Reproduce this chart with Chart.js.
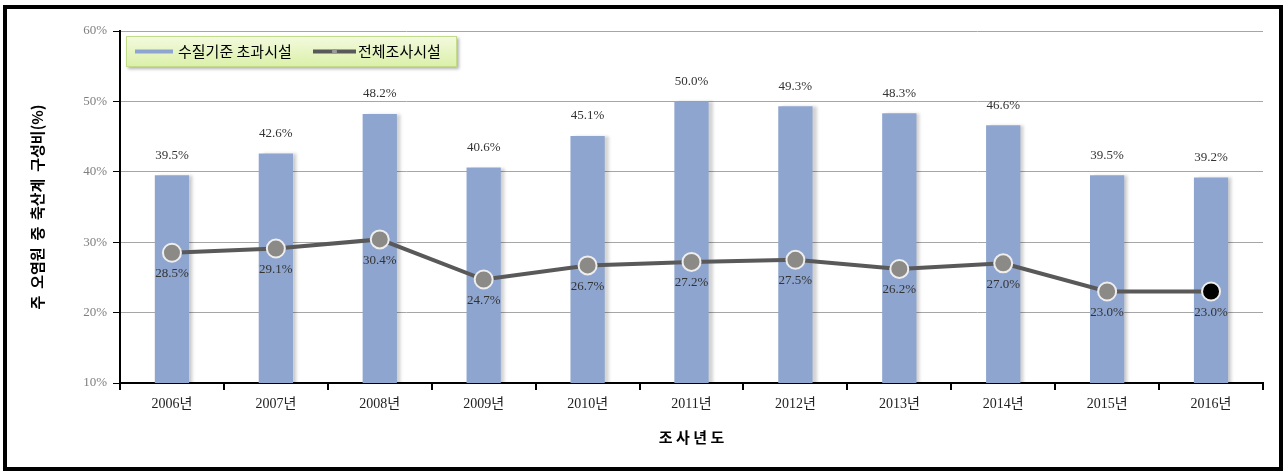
<!DOCTYPE html>
<html>
<head>
<meta charset="utf-8">
<script src="https://cdn.jsdelivr.net/npm/chart.js@4/dist/chart.umd.min.js"></script>
<style>
  html, body { margin: 0; padding: 0; background: #fff; }
  #wrap { position: relative; width: 1285px; height: 474px; }
  #frame { position: absolute; left: 3px; top: 5px; width: 1280px; height: 466px;
           box-sizing: border-box; border: 4px solid #000; pointer-events: none; }
  canvas { position: absolute; left: 0; top: 0; }
</style>
</head>
<body>
<div id="wrap">
  <canvas id="chart" width="1285" height="474"></canvas>
  <div id="frame"></div>
</div>
<script>
const years = ['2006년', '2007년', '2008년', '2009년', '2010년', '2011년', '2012년', '2013년', '2014년', '2015년', '2016년'];
const exceedRatio = [39.5, 42.6, 48.2, 40.6, 45.1, 50.0, 49.3, 48.3, 46.6, 39.5, 39.2];
const allRatio = [28.5, 29.1, 30.4, 24.7, 26.7, 27.2, 27.5, 26.2, 27.0, 23.0, 23.0];
const yTicks = [10, 20, 30, 40, 50, 60];

const barColor = '#8ea5cf';
const lineColor = '#595959';
const numFont = '"Liberation Serif", "Noto Sans CJK KR", serif';
const krFont = '"Noto Sans CJK KR", sans-serif';

// value labels: above bars, below line points
const valueLabels = {
  id: 'valueLabels',
  afterDatasetsDraw(chart) {
    const ctx = chart.ctx;
    ctx.save();
    ctx.font = '13px ' + numFont;
    ctx.fillStyle = '#333';
    ctx.textAlign = 'center';
    ctx.textBaseline = 'middle';
    chart.getDatasetMeta(1).data.forEach((el, i) => {
      ctx.fillText(exceedRatio[i].toFixed(1) + '%', el.x, el.y - 20);
    });
    chart.getDatasetMeta(0).data.forEach((el, i) => {
      ctx.fillText(allRatio[i].toFixed(1) + '%', el.x, el.y + 21);
    });
    ctx.restore();
  }
};

// soft shadow to the right of each bar
const barShadow = {
  id: 'barShadow',
  beforeDatasetDraw(chart, args) {
    if (args.index !== 1) return;
    const ctx = chart.ctx;
    ctx.save();
    ctx.shadowColor = 'rgba(0,0,0,0.18)';
    ctx.shadowOffsetX = 4;
    ctx.shadowOffsetY = 0;
    ctx.shadowBlur = 3;
  },
  afterDatasetDraw(chart, args) {
    if (args.index !== 1) return;
    chart.ctx.restore();
  }
};

// legend box in the top-left of the plot
const legendBox = {
  id: 'legendBox',
  afterDraw(chart) {
    const ctx = chart.ctx;
    const x = 126, y = 36, w = 331, h = 31;
    ctx.save();
    ctx.shadowColor = 'rgba(0,0,0,0.3)';
    ctx.shadowOffsetX = 2;
    ctx.shadowOffsetY = 2;
    ctx.shadowBlur = 3;
    const g = ctx.createLinearGradient(0, y, 0, y + h);
    g.addColorStop(0, '#f3fadf');
    g.addColorStop(1, '#dbf0a8');
    ctx.fillStyle = g;
    ctx.fillRect(x, y, w, h);
    ctx.restore();
    ctx.save();
    ctx.strokeStyle = '#c3dc8c';
    ctx.lineWidth = 1;
    ctx.strokeRect(x + 0.5, y + 0.5, w - 1, h - 1);

    const cy = y + h / 2;
    ctx.fillStyle = barColor;
    ctx.fillRect(135, cy - 2, 38, 4);
    ctx.font = '15px ' + krFont;
    ctx.fillStyle = '#000';
    ctx.textBaseline = 'middle';
    ctx.textAlign = 'left';
    ctx.fillText('수질기준 초과시설', 178, cy);

    ctx.strokeStyle = lineColor;
    ctx.lineWidth = 4;
    ctx.beginPath();
    ctx.moveTo(313, cy);
    ctx.lineTo(356, cy);
    ctx.stroke();
    ctx.fillStyle = '#9a9a9a';
    ctx.beginPath();
    ctx.arc(334.5, cy, 2.5, 0, Math.PI * 2);
    ctx.fill();
    ctx.fillStyle = '#000';
    ctx.fillText('전체조사시설', 358, cy);
    ctx.restore();
  }
};

new Chart(document.getElementById('chart'), {
  data: {
    labels: years,
    datasets: [{
      type: 'line',
      label: '전체조사시설',
      data: allRatio,
      borderColor: lineColor,
      borderWidth: 4,
      pointRadius: 9,
      pointBorderWidth: 2,
      pointBorderColor: '#eeeeee',
      pointBackgroundColor: allRatio.map((v, i) => i === allRatio.length - 1 ? '#000' : '#8c8a86'),
      tension: 0,
      order: 0
    }, {
      type: 'bar',
      label: '수질기준 초과시설',
      data: exceedRatio,
      backgroundColor: barColor,
      barPercentage: 0.33,
      categoryPercentage: 1,
      order: 1
    }]
  },
  options: {
    responsive: false,
    animation: false,
    layout: { padding: { left: 28, right: 22, top: 31, bottom: 0 } },
    plugins: { legend: { display: false }, tooltip: { enabled: false } },
    scales: {
      x: {
        offset: true,
        grid: { display: true, drawOnChartArea: false, tickLength: 7, tickColor: '#000', offset: true, lineWidth: 2 },
        border: { color: '#000', width: 2 },
        ticks: { color: '#222', font: { family: numFont, size: 14 }, padding: 6 },
        title: { display: true, text: '조 사 년 도', color: '#000',
                 font: { family: krFont, size: 15, weight: 'bold' }, padding: { top: 14, bottom: 28 } },
        afterFit(s) { s.height = 91; }
      },
      y: {
        min: 10,
        max: 60,
        afterBuildTicks(s) { s.ticks = yTicks.map(v => ({ value: v })); },
        grid: { color: '#a6a6a6', lineWidth: 1, tickLength: 7, tickColor: '#000' },
        border: { color: '#000', width: 2 },
        ticks: { color: '#7f7f7f', font: { family: numFont, size: 13 }, padding: 6,
                 callback: v => v + '%' },
        title: { display: true, text: '주  오염원  중  축산계  구성비(%)', color: '#000',
                 font: { family: krFont, size: 15, weight: 'bold' }, padding: { top: 0, bottom: 30 } },
        afterFit(s) { s.width = 92; }
      }
    }
  },
  plugins: [barShadow, valueLabels, legendBox]
});
</script>
</body>
</html>
